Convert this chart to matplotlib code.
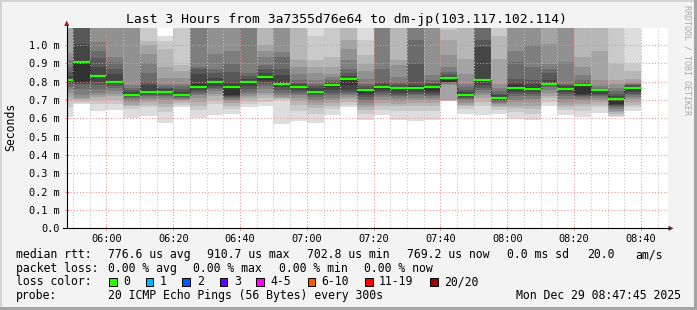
import matplotlib
matplotlib.use("Agg")
import matplotlib.pyplot as plt
from matplotlib.patches import Rectangle, Polygon
from matplotlib.lines import Line2D
import numpy as np

# ---------------- data (milliseconds) ----------------
bar_start = ["05:45", "05:50", "05:55", "06:00", "06:05", "06:10", "06:15", "06:20",
             "06:25", "06:30", "06:35", "06:40", "06:45", "06:50", "06:55", "07:00",
             "07:05", "07:10", "07:15", "07:20", "07:25", "07:30", "07:35", "07:40",
             "07:45", "07:50", "07:55", "08:00", "08:05", "08:10", "08:15", "08:20",
             "08:25", "08:30", "08:35"]

median_rtt = [0.807, 0.909, 0.832, 0.801, 0.728, 0.745, 0.745, 0.728, 0.770, 0.796,
              0.770, 0.801, 0.827, 0.789, 0.770, 0.745, 0.783, 0.816, 0.752, 0.770,
              0.765, 0.765, 0.770, 0.821, 0.728, 0.807, 0.710, 0.766, 0.761, 0.789,
              0.761, 0.783, 0.752, 0.703, 0.766]

OFF = 1.2  # ping above the top of the graph (clipped)

# sorted pings 1..10 of each 5-minute step
pings_low = [
    [0.608, 0.663, 0.700, 0.717, 0.740, 0.760, 0.771, 0.785, 0.795, 0.800],
    [0.679, 0.685, 0.695, 0.705, 0.712, 0.730, 0.761, 0.785, 0.790, 0.798],
    [0.640, 0.680, 0.700, 0.715, 0.725, 0.740, 0.760, 0.780, 0.800, 0.825],
    [0.645, 0.680, 0.700, 0.720, 0.735, 0.750, 0.765, 0.776, 0.785, 0.795],
    [0.603, 0.650, 0.665, 0.675, 0.690, 0.700, 0.710, 0.715, 0.720, 0.726],
    [0.615, 0.660, 0.675, 0.690, 0.700, 0.710, 0.720, 0.728, 0.735, 0.742],
    [0.577, 0.635, 0.660, 0.680, 0.700, 0.710, 0.720, 0.730, 0.736, 0.742],
    [0.660, 0.675, 0.685, 0.695, 0.700, 0.708, 0.712, 0.715, 0.720, 0.725],
    [0.603, 0.645, 0.670, 0.690, 0.710, 0.725, 0.735, 0.745, 0.755, 0.765],
    [0.616, 0.680, 0.700, 0.720, 0.735, 0.750, 0.760, 0.768, 0.775, 0.785],
    [0.625, 0.650, 0.670, 0.685, 0.695, 0.700, 0.710, 0.715, 0.720, 0.725],
    [0.660, 0.680, 0.695, 0.710, 0.720, 0.735, 0.745, 0.760, 0.775, 0.790],
    [0.670, 0.690, 0.710, 0.725, 0.740, 0.760, 0.775, 0.785, 0.800, 0.810],
    [0.570, 0.700, 0.705, 0.710, 0.715, 0.725, 0.740, 0.752, 0.770, 0.780],
    [0.585, 0.640, 0.675, 0.695, 0.710, 0.725, 0.735, 0.745, 0.755, 0.765],
    [0.572, 0.625, 0.655, 0.675, 0.690, 0.700, 0.715, 0.725, 0.735, 0.740],
    [0.620, 0.650, 0.670, 0.685, 0.700, 0.710, 0.725, 0.740, 0.755, 0.770],
    [0.661, 0.675, 0.690, 0.705, 0.715, 0.725, 0.735, 0.745, 0.755, 0.780],
    [0.590, 0.625, 0.645, 0.660, 0.675, 0.690, 0.700, 0.715, 0.725, 0.740],
    [0.620, 0.645, 0.670, 0.685, 0.700, 0.715, 0.730, 0.740, 0.750, 0.760],
    [0.590, 0.640, 0.665, 0.680, 0.695, 0.710, 0.720, 0.730, 0.740, 0.755],
    [0.585, 0.640, 0.665, 0.685, 0.700, 0.710, 0.725, 0.735, 0.745, 0.755],
    [0.590, 0.640, 0.665, 0.685, 0.700, 0.710, 0.720, 0.730, 0.740, 0.750],
    [0.693, 0.695, 0.697, 0.700, 0.780, 0.790, 0.795, 0.800, 0.800, 0.800],
    [0.625, 0.650, 0.670, 0.675, 0.685, 0.695, 0.705, 0.710, 0.715, 0.725],
    [0.620, 0.665, 0.690, 0.710, 0.725, 0.740, 0.755, 0.765, 0.780, 0.800],
    [0.625, 0.645, 0.660, 0.670, 0.680, 0.685, 0.690, 0.695, 0.700, 0.705],
    [0.598, 0.635, 0.655, 0.670, 0.690, 0.700, 0.720, 0.735, 0.745, 0.755],
    [0.590, 0.625, 0.650, 0.670, 0.690, 0.705, 0.720, 0.735, 0.745, 0.755],
    [0.670, 0.690, 0.710, 0.720, 0.740, 0.755, 0.770, 0.775, 0.780, 0.785],
    [0.620, 0.645, 0.660, 0.675, 0.690, 0.705, 0.720, 0.735, 0.745, 0.752],
    [0.607, 0.640, 0.665, 0.680, 0.695, 0.705, 0.715, 0.720, 0.730, 0.735],
    [0.628, 0.660, 0.675, 0.690, 0.700, 0.710, 0.720, 0.730, 0.735, 0.745],
    [0.607, 0.615, 0.625, 0.635, 0.640, 0.650, 0.660, 0.665, 0.675, 0.680],
    [0.640, 0.660, 0.675, 0.690, 0.705, 0.715, 0.725, 0.735, 0.745, 0.755],
]

# sorted pings 11..20 of each 5-minute step
pings_high = [
    [0.816, 0.830, 0.853, 0.880, 0.919, 0.958, OFF, OFF, OFF, OFF],
    [0.910, 1.007, OFF, OFF, OFF, OFF, OFF, OFF, OFF, OFF],
    [0.836, 0.880, 0.930, 0.967, 1.016, OFF, OFF, OFF, OFF, OFF],
    [0.800, 0.840, 0.870, 0.905, 0.934, OFF, OFF, OFF, OFF, OFF],
    [0.732, 0.745, 0.755, 0.765, 0.780, OFF, OFF, OFF, OFF, OFF],
    [0.755, 0.780, 0.800, 0.850, 0.900, 0.950, 1.000, 1.020, OFF, OFF],
    [0.750, 0.760, 0.765, 0.775, 0.790, 0.820, 0.880, 0.980, 1.020, 1.050],
    [0.735, 0.745, 0.760, 0.774, 0.790, 0.820, 0.856, 0.890, OFF, OFF],
    [0.785, 0.840, 0.870, 0.880, OFF, OFF, OFF, OFF, OFF, OFF],
    [0.800, 0.820, 0.845, 0.870, 0.952, OFF, OFF, OFF, OFF, OFF],
    [0.780, 0.800, 0.855, 0.900, 0.970, OFF, OFF, OFF, OFF, OFF],
    [0.805, 0.815, 0.830, 0.845, OFF, OFF, OFF, OFF, OFF, OFF],
    [0.832, 0.845, 0.870, 0.890, 0.935, 0.970, 1.000, OFF, OFF, OFF],
    [0.800, 0.835, 0.870, 0.934, 0.960, OFF, OFF, OFF, OFF, OFF],
    [0.778, 0.785, 0.795, 0.810, 0.840, 0.880, 0.916, OFF, OFF, OFF],
    [0.755, 0.765, 0.775, 0.790, 0.810, 0.850, 0.880, 0.916, 1.050, OFF],
    [0.790, 0.795, 0.800, 0.810, 0.825, 0.840, 0.880, 0.934, OFF, OFF],
    [0.820, 0.830, 0.845, 0.870, 0.916, 0.980, 1.025, OFF, OFF, OFF],
    [0.758, 0.765, 0.775, 0.790, 0.816, 0.860, 0.898, 0.944, 1.025, OFF],
    [0.775, 0.785, 0.800, 0.870, OFF, OFF, OFF, OFF, OFF, OFF],
    [0.768, 0.775, 0.785, 0.800, 0.825, 0.890, 0.916, OFF, OFF, OFF],
    [0.775, 0.780, 0.900, 1.030, OFF, OFF, OFF, OFF, OFF, OFF],
    [0.775, 0.785, 0.795, 0.810, 0.835, OFF, OFF, OFF, OFF, OFF],
    [0.826, 0.830, 0.840, 0.855, 0.880, 0.944, 1.025, 1.080, OFF, OFF],
    [0.735, 0.745, 0.755, 0.770, 0.790, 0.840, 0.925, OFF, OFF, OFF],
    [0.810, 0.990, 1.025, OFF, OFF, OFF, OFF, OFF, OFF, OFF],
    [0.715, 0.725, 0.735, 0.750, 0.765, 0.790, 0.925, 1.050, OFF, OFF],
    [0.780, 0.800, 0.815, 0.905, 0.970, OFF, OFF, OFF, OFF, OFF],
    [0.770, 0.790, 0.810, 0.880, 1.000, OFF, OFF, OFF, OFF, OFF],
    [0.795, 0.810, 0.850, 0.870, 0.898, 1.007, OFF, OFF, OFF, OFF],
    [0.765, 0.775, 0.780, 0.790, 0.906, OFF, OFF, OFF, OFF, OFF],
    [0.787, 0.790, 0.800, 0.810, 0.835, 0.880, 0.934, OFF, OFF, OFF],
    [0.755, 0.757, 0.760, 0.765, 0.775, 0.807, 0.970, OFF, OFF, OFF],
    [0.705, 0.720, 0.735, 0.750, 0.765, 0.785, 0.807, 0.898, OFF, OFF],
    [0.770, 0.775, 0.780, 0.785, 0.790, 0.800, 0.815, 0.860, 0.898, OFF],
]

y_ticks = [0.0, 0.1, 0.2, 0.3, 0.4, 0.5, 0.6, 0.7, 0.8, 0.9, 1.0]
y_tick_labels = ["0.0", "0.1 m", "0.2 m", "0.3 m", "0.4 m", "0.5 m",
                 "0.6 m", "0.7 m", "0.8 m", "0.9 m", "1.0 m"]
x_tick_labels = ["06:00", "06:20", "06:40", "07:00", "07:20", "07:40",
                 "08:00", "08:20", "08:40"]

title = "Last 3 Hours from 3a7355d76e64 to dm-jp(103.117.102.114)"
loss_labels = ["0", "1", "2", "3", "4-5", "6-10", "11-19", "20/20"]
loss_colors = ["#26ff00", "#00b8ff", "#0059ff", "#5e00ff", "#ff00ff",
               "#ff5500", "#ff0000", "#a00000"]

# ---------------- figure ----------------
W, H, DPI = 697, 310, 100
MONO = "DejaVu Sans Mono"
plt.rcParams["font.family"] = MONO

fig = plt.figure(figsize=(W / DPI, H / DPI), dpi=DPI, facecolor="#f3f3f3")


def fx(px):
    return px / W


def fy(py):
    return 1 - py / H


AX_L, AX_R, AX_T, AX_B = 66.7, 668.3, 28.0, 228.3
ax = fig.add_axes([fx(AX_L), fy(AX_B), fx(AX_R) - fx(AX_L), fy(AX_T) - fy(AX_B)])
ax.set_facecolor("white")


def to_min(s):
    h, m = s.split(":")
    return (int(h) - 6) * 60 + int(m)


starts = np.array([to_min(s) for s in bar_start], dtype=float)
x_major = [to_min(s) for s in x_tick_labels]
STEP = 5.0

# smoke: band i spans ping i .. ping 21-i
all_p = np.array([sorted(lo + hi) for lo, hi in zip(pings_low, pings_high)])
half = 10
for i in range(1, half + 1):
    g = int(190 / half * (half - i)) + 50
    col = "#%02x%02x%02x" % (g, g, g)
    lo = all_p[:, i - 1]
    hi = all_p[:, 20 - i]
    ax.bar(starts, hi - lo, bottom=lo, width=STEP, align="edge",
           color=col, linewidth=0, zorder=1)

# median: dark step line + green loss-coloured segments
med = np.array(median_rtt)
edges = np.append(starts, starts[-1] + STEP)
ax.step(edges, np.append(med, med[-1]), where="post", color="#202020",
        lw=0.8, ls=(0, (1, 1)), zorder=3)
ax.hlines(med, starts, starts + STEP, color=loss_colors[0], lw=1.6, zorder=4)

ax.set_xlim(-11.9, 168.2)
ax.set_ylim(0, 1.093)

# grid
ax.set_xticks(x_major)
ax.set_xticklabels(x_tick_labels)
ax.set_xticks(np.arange(-10, 170, 5), minor=True)
ax.set_yticks(y_ticks)
ax.set_yticklabels(y_tick_labels)
ax.grid(which="major", axis="both", color="#f09090", ls=(0, (1, 2)), lw=0.75, zorder=2)
ax.grid(which="minor", axis="x", color="#c4c4c4", ls=(0, (1, 2)), lw=0.75, zorder=2)
ax.set_axisbelow(False)
for sp in ax.spines.values():
    sp.set_visible(False)

ax.tick_params(axis="both", which="major", direction="inout", length=3,
               width=0.7, color="#f08080", labelsize=7.4, labelcolor="#000000")
ax.tick_params(axis="y", pad=3.6)
ax.tick_params(axis="x", pad=2.6)
ax.tick_params(axis="x", which="minor", direction="inout", length=2, width=0.7,
               color="#c0c0c0")

# axes lines and arrows (figure pixel coordinates)
def fig_line(x0, y0, x1, y1, **kw):
    fig.add_artist(Line2D([fx(x0), fx(x1)], [fy(y0), fy(y1)],
                          transform=fig.transFigure, **kw))


fig_line(AX_L, AX_B, AX_L, 25.5, color="black", lw=0.8)
fig_line(62.5, AX_B, 669.5, AX_B, color="black", lw=0.8)
fig.add_artist(Polygon([[fx(AX_L), fy(20.5)], [fx(AX_L - 2.6), fy(26)],
                        [fx(AX_L + 2.6), fy(26)]], closed=True,
                       transform=fig.transFigure, color="#9c2020", lw=0))
fig.add_artist(Polygon([[fx(673.5), fy(AX_B)], [fx(668.5), fy(AX_B - 2.6)],
                        [fx(668.5), fy(AX_B + 2.6)]], closed=True,
                       transform=fig.transFigure, color="#9c2020", lw=0))

# frame
fig.add_artist(Rectangle((0, fy(2)), 1, 2 / H, transform=fig.transFigure,
                         color="#d4d4d4", lw=0))
fig.add_artist(Rectangle((0, 0), 2 / W, 1, transform=fig.transFigure,
                         color="#d4d4d4", lw=0))
fig.add_artist(Rectangle((fx(694), 0), 3 / W, 1, transform=fig.transFigure,
                         color="#a4a4a4", lw=0))
fig.add_artist(Rectangle((0, 0), 1, 3 / H, transform=fig.transFigure,
                         color="#a4a4a4", lw=0))

# texts
fig.text(fx(347), fy(23.3), title, ha="center", va="baseline", fontsize=9.4)
fig.text(fx(10.5), fy(126.7), "Seconds", rotation=90, ha="center", va="center",
         fontsize=8.3)
fig.text(fx(687), fy(60), "RRDTOOL / TOBI OETIKER", rotation=270, ha="center",
         va="center", fontsize=6, color="#a8a8a8")

LEG = 8.3
rows = [
    (258.0, [(16, "median rtt:"), (107.6, "776.6 us avg"), (207.1, "910.7 us max"),
             (306.7, "702.8 us min"), (407.1, "769.2 us now"), (506.7, "0.0 ms sd"),
             (586.7, "20.0"), (635.0, "am/s")]),
    (271.7, [(16, "packet loss:"), (107.6, "0.00 % avg"), (192.9, "0.00 % max"),
             (279.1, "0.00 % min"), (364.4, "0.00 % now")]),
    (285.4, [(16, "loss color:")]),
    (299.1, [(16, "probe:"), (107.6, "20 ICMP Echo Pings (56 Bytes) every 300s")]),
]
for yb, items in rows:
    for xp, s in items:
        fig.text(fx(xp), fy(yb), s, ha="left", va="baseline", fontsize=LEG)
fig.text(fx(680.5), fy(299.1), "Mon Dec 29 08:47:45 2025", ha="right",
         va="baseline", fontsize=LEG)

box_x = [109.0, 145.8, 182.2, 219.6, 256.4, 307.6, 365.3, 430.2]
lab_x = [123.6, 160.0, 196.9, 233.8, 270.7, 320.9, 379.1, 444.4]
for bx, lx, lab, col in zip(box_x, lab_x, loss_labels, loss_colors):
    fig.add_artist(Rectangle((fx(bx), fy(286.0)), 7.5 / W, 8.5 / H,
                             transform=fig.transFigure, facecolor=col,
                             edgecolor="black", lw=0.7))
    fig.text(fx(lx), fy(285.4), lab, ha="left", va="baseline", fontsize=LEG)

fig.savefig("out.png", dpi=DPI, facecolor=fig.get_facecolor())
